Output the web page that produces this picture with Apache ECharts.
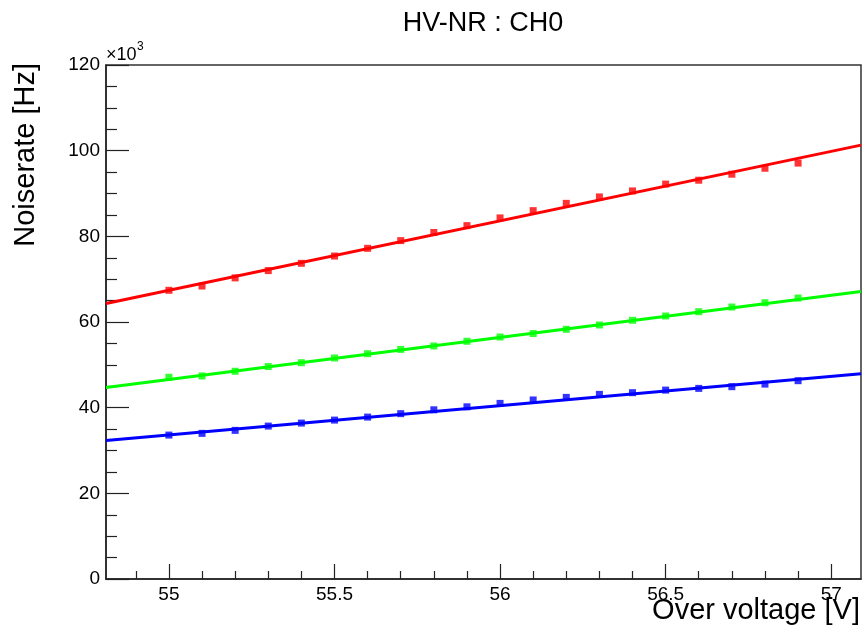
<!DOCTYPE html>
<html>
<head>
<meta charset="utf-8">
<title>HV-NR : CH0</title>
<script src="https://cdn.jsdelivr.net/npm/echarts@6/dist/echarts.min.js"></script>
<style>
  html, body { margin: 0; padding: 0; background: #fff; }
  #chart { width: 863px; height: 630px; }
</style>
</head>
<body>
<div id="chart"></div>
<script>
// Over voltage settings [V]
const overVoltage = [55.0, 55.1, 55.2, 55.3, 55.4, 55.5, 55.6, 55.7, 55.8, 55.9,
                     56.0, 56.1, 56.2, 56.3, 56.4, 56.5, 56.6, 56.7, 56.8, 56.9];

// Measured noise rates (x10^3 Hz)
const rateRed   = [67.4, 68.4, 70.3, 72.0, 73.7, 75.4, 77.2, 79.0, 80.9, 82.5,
                   84.3, 86.0, 87.7, 89.2, 90.6, 92.2, 93.1, 94.5, 95.9, 97.1];
const rateGreen = [47.1, 47.4, 48.5, 49.6, 50.5, 51.6, 52.6, 53.6, 54.4, 55.5,
                   56.5, 57.3, 58.3, 59.3, 60.4, 61.4, 62.4, 63.5, 64.5, 65.6];
const rateBlue  = [33.6, 34.0, 34.7, 35.7, 36.4, 37.1, 37.8, 38.6, 39.5, 40.2,
                   41.0, 41.8, 42.4, 43.1, 43.5, 44.1, 44.5, 44.9, 45.5, 46.3];

// Linear fit results evaluated at the ends of the axis range
const fitRange = [54.81, 57.09];
const fitRed   = [64.3, 101.3];
const fitGreen = [44.7, 67.1];
const fitBlue  = [32.35, 47.9];

// Axis ticks
const xMajorTicks = [55, 55.5, 56, 56.5, 57];
const xMinorTicks = [54.9, 55.1, 55.2, 55.3, 55.4, 55.6, 55.7, 55.8, 55.9,
                     56.1, 56.2, 56.3, 56.4, 56.6, 56.7, 56.8, 56.9];
const yRange = [0, 120];
const yStep = 20;

const FONT = '"Liberation Sans", Arial, Helvetica, sans-serif';

function pairs(xs, ys) { return xs.map((x, i) => [x, ys[i]]); }

function points(name, color, ys) {
  return {
    name: name, type: 'scatter', xAxisIndex: 0, yAxisIndex: 0,
    symbol: 'rect', symbolSize: 7,
    itemStyle: { color: color },
    data: pairs(overVoltage, ys), z: 3
  };
}
function fitLine(name, color, ys) {
  return {
    name: name, type: 'line', xAxisIndex: 0, yAxisIndex: 0,
    showSymbol: false, symbol: 'none', clip: true,
    lineStyle: { color: color, width: 3 },
    data: pairs(fitRange, ys), z: 2
  };
}

const chart = echarts.init(document.getElementById('chart'), null, { renderer: 'canvas' });

chart.setOption({
  animation: false,
  backgroundColor: '#fff',
  grid: {
    left: 106, top: 65, right: 2, bottom: 51,
    show: true, borderColor: '#333', borderWidth: 1.5,
    containLabel: false, outerBoundsMode: 'none'
  },
  xAxis: [{
    // main axis: data scale, major ticks and labels
    type: 'value', position: 'bottom',
    min: fitRange[0], max: fitRange[1],
    axisLine: { show: true, onZero: false, lineStyle: { color: '#222', width: 1.5 } },
    axisTick: { show: true, inside: true, length: 15, customValues: xMajorTicks,
                lineStyle: { color: '#222', width: 1.2 } },
    axisLabel: { show: true, customValues: xMajorTicks, margin: 6, fontSize: 19,
                 color: '#000', fontFamily: FONT, formatter: v => String(v) },
    splitLine: { show: false }
  }, {
    // companion axis carrying only the short minor ticks
    type: 'value', position: 'bottom',
    min: fitRange[0], max: fitRange[1],
    axisLine: { show: false, onZero: false },
    axisTick: { show: true, inside: true, length: 8, customValues: xMinorTicks,
                lineStyle: { color: '#222', width: 1.2 } },
    axisLabel: { show: false },
    splitLine: { show: false }
  }],
  yAxis: {
    type: 'value', min: yRange[0], max: yRange[1], interval: yStep,
    axisLine: { show: true, onZero: false, lineStyle: { color: '#222', width: 1.5 } },
    axisTick: { show: true, inside: true, length: 23, lineStyle: { color: '#222', width: 1.2 } },
    minorTick: { show: true, splitNumber: 4, length: 11, lineStyle: { color: '#222', width: 1.2 } },
    axisLabel: { margin: 6, fontSize: 19, color: '#000', fontFamily: FONT },
    splitLine: { show: false }
  },
  graphic: [
    { type: 'text', x: 483, y: 24,
      style: { text: 'HV-NR : CH0', font: '27px ' + FONT, fill: '#000',
               textAlign: 'center', textVerticalAlign: 'middle' } },
    { type: 'text', x: 106, y: 55,
      style: { text: '\u00d710', font: '18px ' + FONT, fill: '#000',
               textAlign: 'left', textVerticalAlign: 'middle' } },
    { type: 'text', x: 137, y: 47,
      style: { text: '3', font: '12px ' + FONT, fill: '#000',
               textAlign: 'left', textVerticalAlign: 'middle' } },
    { type: 'text', x: 26, y: 63, rotation: Math.PI / 2,
      style: { text: 'Noiserate [Hz]', font: '29px ' + FONT, fill: '#000',
               textAlign: 'right', textVerticalAlign: 'middle' } },
    { type: 'text', x: 860, y: 611,
      style: { text: 'Over voltage [V]', font: '29px ' + FONT, fill: '#000',
               textAlign: 'right', textVerticalAlign: 'middle' } }
  ],
  series: [
    points('Red', '#ff0000', rateRed),
    points('Green', '#00ff00', rateGreen),
    points('Blue', '#0000ff', rateBlue),
    fitLine('Red fit', '#ff0000', fitRed),
    fitLine('Green fit', '#00ff00', fitGreen),
    fitLine('Blue fit', '#0000ff', fitBlue)
  ]
});
</script>
</body>
</html>
